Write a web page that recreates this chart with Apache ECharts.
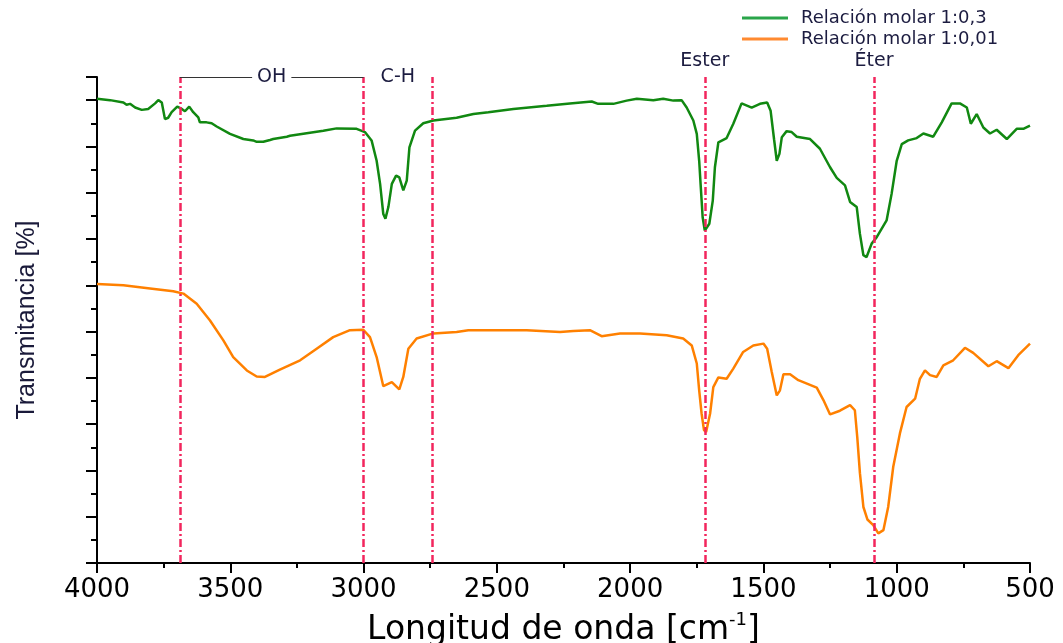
<!DOCTYPE html>
<html><head><meta charset="utf-8">
<script src="https://cdn.jsdelivr.net/npm/echarts@6/dist/echarts.min.js"></script>
<style>html,body{margin:0;padding:0;background:#fff}#c{width:1063px;height:643px}</style>
</head><body><div id="c"></div>
<script>
const seriesNames = ['Relación molar 1:0,3', 'Relación molar 1:0,01'];

// [wavenumber (cm-1), transmittance (arb. %)]
const greenSpectrum = [[4000,100.3],[3995,100.3],[3951,100.0],[3901,99.5],[3889,99.0],[3876,99.2],[3857,98.4],[3832,97.9],[3808,98.1],[3782,99.3],[3770,100.0],[3757,99.5],[3745,95.9],[3733,96.2],[3720,97.4],[3699,98.6],[3682,98.1],[3670,97.6],[3654,98.6],[3639,97.4],[3620,96.3],[3614,95.2],[3589,95.2],[3570,95.0],[3551,94.3],[3501,92.7],[3451,91.6],[3414,91.3],[3401,91.0],[3376,91.0],[3351,91.4],[3339,91.6],[3288,92.1],[3276,92.3],[3151,93.4],[3101,93.9],[3026,93.8],[2995,93.1],[2970,91.3],[2951,86.9],[2938,81.9],[2926,75.4],[2918,74.4],[2907,76.9],[2894,81.9],[2878,83.7],[2866,83.3],[2851,80.5],[2838,82.6],[2828,89.8],[2807,93.4],[2776,95.0],[2738,95.6],[2651,96.2],[2588,97.0],[2532,97.4],[2438,98.1],[2313,98.8],[2226,99.3],[2144,99.7],[2120,99.2],[2063,99.2],[2013,99.9],[1975,100.3],[1913,100.0],[1876,100.3],[1838,99.9],[1807,100.0],[1788,98.4],[1763,95.6],[1750,92.7],[1741,86.9],[1735,81.2],[1728,74.7],[1720,71.8],[1703,73.3],[1690,78.3],[1682,85.5],[1669,90.9],[1638,91.8],[1613,94.9],[1582,99.3],[1544,98.4],[1513,99.2],[1486,99.5],[1473,97.7],[1460,91.5],[1450,86.9],[1440,88.4],[1431,92.0],[1413,93.3],[1394,93.1],[1375,92.1],[1325,91.6],[1288,89.5],[1250,85.5],[1225,83.2],[1194,81.6],[1175,78.0],[1150,76.9],[1138,71.1],[1125,66.5],[1113,66.1],[1094,69.0],[1075,70.4],[1038,74.0],[1019,79.8],[1000,86.9],[981,90.5],[957,91.3],[925,91.8],[900,92.8],[863,92.1],[831,95.2],[794,99.3],[763,99.3],[737,98.4],[722,94.9],[700,97.0],[675,94.1],[650,92.8],[625,93.6],[587,91.6],[550,93.8],[525,93.8],[500,94.5]];

const orangeSpectrum = [[4000,60.3],[3995,60.3],[3901,60.0],[3801,59.3],[3714,58.7],[3676,58.2],[3626,56.0],[3576,52.4],[3526,48.1],[3489,44.5],[3438,41.6],[3401,40.3],[3370,40.2],[3314,41.8],[3238,43.8],[3176,46.3],[3114,48.8],[3051,50.3],[3001,50.4],[2976,48.8],[2951,44.5],[2926,38.2],[2894,39.1],[2866,37.5],[2851,40.2],[2832,46.3],[2801,48.5],[2738,49.6],[2651,49.9],[2607,50.3],[2526,50.3],[2388,50.3],[2263,49.9],[2213,50.1],[2151,50.3],[2107,49.0],[2038,49.6],[1963,49.6],[1863,49.2],[1801,48.5],[1769,47.0],[1750,43.1],[1741,37.3],[1732,32.3],[1723,28.7],[1715,28.3],[1700,32.3],[1688,38.0],[1669,40.1],[1638,39.8],[1613,42.0],[1576,45.6],[1538,47.0],[1500,47.4],[1486,46.3],[1469,41.3],[1450,36.2],[1438,37.3],[1425,40.8],[1400,40.8],[1369,39.5],[1300,37.9],[1275,35.2],[1250,32.1],[1213,32.9],[1175,34.1],[1157,33.0],[1148,27.2],[1138,19.4],[1125,12.1],[1110,9.4],[1088,8.2],[1069,6.4],[1050,7.1],[1032,12.1],[1013,20.8],[988,28.0],[963,33.7],[931,35.5],[913,39.8],[894,41.6],[875,40.6],[850,40.2],[825,42.7],[788,43.8],[744,46.5],[713,45.4],[656,42.5],[625,43.6],[581,42.1],[544,44.9],[500,47.4]];

const bandPositions = [3689, 3000, 2743, 1720, 1085];
const bandNames = ['', '', '', 'Ester', 'Éter'];
const regionNames = ['OH', 'C-H'];
const regionBounds = [[3689, 3000], [3000, 2743]];

const Y_MAX = 105;
const textDark = '#1c1c40';
const pink = '#f2265d';
const annFont = { color: textDark, fontSize: 19, fontFamily: 'DejaVu Sans' };

const markData = [];
bandPositions.forEach((b, i) => {
  markData.push([
    { coord: [b, 0],
      label: bandNames[i] ? Object.assign({ show: true, position: 'end', formatter: bandNames[i], distance: 6 }, annFont) : { show: false } },
    { coord: [b, Y_MAX] }
  ]);
});
regionBounds.forEach((r, i) => {
  markData.push([
    { coord: [r[0], Y_MAX],
      lineStyle: i === 0 ? { color: '#333', width: 1, type: 'solid' } : { color: 'rgba(0,0,0,0)', width: 0, type: 'solid' },
      label: Object.assign({ show: true, position: 'middle', formatter: regionNames[i], distance: -10, backgroundColor: '#fff', padding: [0, 5] }, annFont) },
    { coord: [r[1], Y_MAX] }
  ]);
});

const chart = echarts.init(document.getElementById('c'), null, { renderer: 'canvas' });
chart.setOption({
  backgroundColor: '#fff',
  animation: false,
  grid: { left: 97, right: 33, top: 77, bottom: 80, containLabel: false, outerBoundsMode: 'none' },
  legend: {
    orient: 'vertical', left: 737, top: 4, itemGap: 3,
    icon: 'rect', itemWidth: 46, itemHeight: 3,
    textStyle: { fontFamily: 'DejaVu Sans', fontSize: 18, color: textDark, padding: [0, 0, 0, 8] },
    data: [
      { name: seriesNames[0], itemStyle: { color: '#2aa54a' } },
      { name: seriesNames[1], itemStyle: { color: '#ff8a30' } }
    ]
  },
  xAxis: {
    type: 'value', inverse: true, min: 500, max: 4000, interval: 500,
    axisLine: { lineStyle: { color: '#000', width: 2 } },
    axisTick: { show: true, length: 10, lineStyle: { color: '#000', width: 2 } },
    minorTick: { show: true, splitNumber: 2, length: 5, lineStyle: { color: '#000', width: 2 } },
    splitLine: { show: false },
    axisLabel: { color: '#000', fontFamily: 'DejaVu Sans', fontSize: 26, margin: 14, formatter: v => String(v) },
    name: 'Longitud de onda [cm{sup|-1}]',
    nameLocation: 'middle', nameGap: 48,
    nameTextStyle: {
      color: '#000', fontFamily: 'DejaVu Sans', fontSize: 33, lineHeight: 38,
      rich: { sup: { fontFamily: 'DejaVu Sans', fontSize: 18, verticalAlign: 'top', lineHeight: 20, color: '#000' } }
    }
  },
  yAxis: {
    type: 'value', min: 0, max: Y_MAX, interval: 10,
    axisLine: { show: true, lineStyle: { color: '#000', width: 2 } },
    axisTick: { show: true, length: 11, lineStyle: { color: '#000', width: 2 } },
    minorTick: { show: true, splitNumber: 2, length: 6, lineStyle: { color: '#000', width: 2 } },
    splitLine: { show: false },
    axisLabel: { show: false },
    name: 'Transmitancia [%]',
    nameLocation: 'middle', nameGap: 57,
    nameTextStyle: { color: '#1a1a3a', fontFamily: 'Liberation Sans', fontSize: 25 }
  },
  series: [
    {
      name: seriesNames[0], type: 'line', data: greenSpectrum, showSymbol: false, symbol: 'none', z: 3,
      lineStyle: { color: '#118811', width: 2.5 }, itemStyle: { color: '#118811' },
      markLine: {
        silent: true, symbol: ['none', 'none'], animation: false,
        lineStyle: { color: pink, width: 2.5, type: [8, 3, 2, 3] },
        label: { show: false },
        data: markData
      }
    },
    {
      name: seriesNames[1], type: 'line', data: orangeSpectrum, showSymbol: false, symbol: 'none', z: 3,
      lineStyle: { color: '#ff8000', width: 2.5 }, itemStyle: { color: '#ff8000' }
    }
  ]
});
</script></body></html>
